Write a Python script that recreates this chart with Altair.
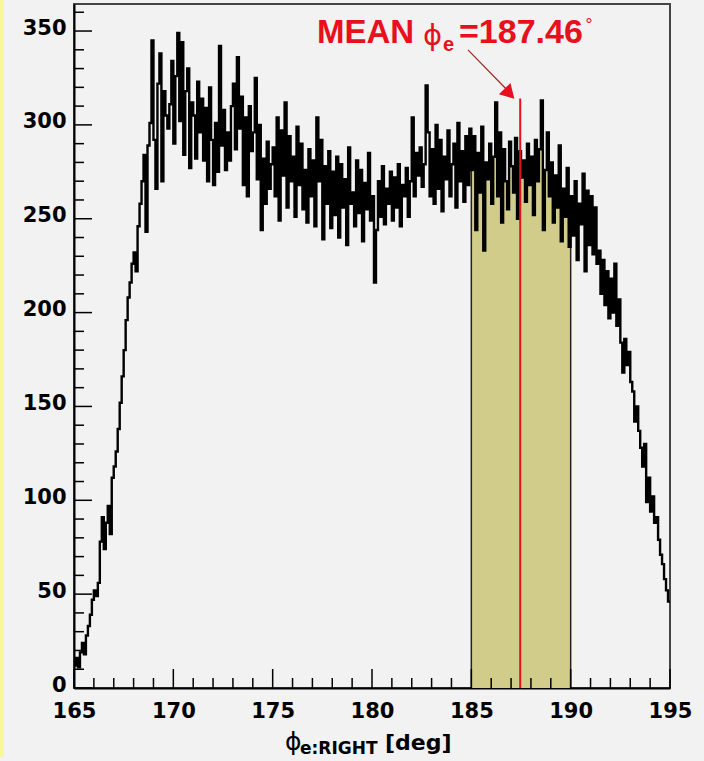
import altair as alt
import pandas as pd

# ---------------- data ----------------
BIN_START = 165.0
BIN_WIDTH = 0.1
counts = [
    12, 16, 11, 19, 24, 18, 28, 33, 39, 47,          # 165
    52, 49, 56, 78, 91, 74, 88, 97, 82, 112,         # 166
    118, 126, 138, 152, 166, 180, 196, 208, 216, 226,  # 167
    232, 222, 246, 258, 270, 284, 243, 289, 301, 345,  # 168
    292, 266, 322, 338, 270, 318, 305, 298, 311, 334,  # 169
    290, 326, 349, 302, 344, 284, 318, 330, 277, 312,  # 170
    305, 282, 323, 296, 314, 281, 309, 270, 320, 292,  # 171
    268, 301, 275, 342, 289, 308, 276, 296, 281, 310,  # 172
    322, 287, 336, 298, 315, 268, 304, 262, 310, 286,  # 173
    296, 325, 271, 300, 244, 282, 258, 291, 266, 279,  # 174
    288, 262, 304, 249, 297, 273, 312, 256, 294, 270,  # 175
    283, 251, 299, 268, 290, 255, 276, 248, 287, 262,  # 176
    281, 246, 304, 270, 292, 239, 278, 258, 286, 245,  # 177
    275, 252, 283, 240, 279, 256, 271, 236, 288, 258,  # 178
    264, 246, 281, 253, 276, 238, 269, 255, 285, 249,  # 179
    262, 216, 244, 270, 251, 278, 247, 266, 258, 275,  # 180
    249, 272, 256, 279, 246, 268, 262, 277, 251, 270,  # 181
    304, 262, 285, 273, 288, 267, 279, 321, 296, 262,  # 182
    287, 258, 300, 266, 292, 254, 283, 271, 297, 262,  # 183
    279, 290, 256, 301, 270, 286, 259, 294, 268, 298,  # 184
    276, 294, 244, 285, 264, 299, 233, 280, 271, 290,  # 185
    258, 283, 312, 262, 296, 248, 287, 270, 255, 291,  # 186
    278, 264, 293, 250, 286, 272, 281, 259, 290, 268,  # 187
    283, 252, 292, 270, 287, 313, 244, 276, 296, 262,  # 188
    280, 248, 273, 256, 289, 238, 266, 251, 277, 235,  # 189
    262, 241, 270, 228, 258, 247, 274, 222, 265, 236,  # 190
    262, 231, 256, 226, 233, 210, 228, 204, 222, 197,  # 191
    218, 200, 226, 193, 207, 184, 168, 186, 172, 179,  # 192
    163, 158, 142, 150, 137, 128, 118, 130, 99, 112,   # 193
    94, 102, 88, 91, 79, 71, 66, 58, 52, 46,           # 194
]

x_major = [165, 170, 175, 180, 185, 190, 195]
x_minor = [166, 167, 168, 169, 171, 172, 173, 174, 176, 177, 178, 179,
           181, 182, 183, 184, 186, 187, 188, 189, 191, 192, 193, 194]
y_major = [0, 50, 100, 150, 200, 250, 300, 350]
y_minor = [10, 20, 30, 40, 60, 70, 80, 90, 110, 120, 130, 140, 160, 170, 180,
           190, 210, 220, 230, 240, 260, 270, 280, 290, 310, 320, 330, 340, 360]

band_range = [185.0, 190.0]
mean_phi = 187.46
mean_line_top = 314
arrow_start = [184.83, 340]
arrow_end = [186.95, 317]
arrow_head = [186.84, 317.5]

X_DOMAIN = [165, 195]
Y_DOMAIN = [0, 364.4]

# ---------------- tables ----------------
edges = [round(BIN_START + BIN_WIDTH * i, 1) for i in range(len(counts) + 1)]
hist = pd.DataFrame({"x": edges, "n": counts + [counts[-1]]})
band_idx = [i for i, e in enumerate(edges[:-1]) if band_range[0] - 1e-9 <= e < band_range[1] - 1e-9]
band = pd.DataFrame({
    "x": [edges[i] for i in band_idx] + [band_range[1]],
    "n": [counts[i] for i in band_idx] + [counts[band_idx[-1]]],
})
band_edges = pd.DataFrame({
    "x": band_range,
    "zero": [0, 0],
    "n": [counts[band_idx[0]], counts[band_idx[-1]]],
})

xs = alt.Scale(domain=X_DOMAIN, nice=False, zero=False)
ys = alt.Scale(domain=Y_DOMAIN, nice=False, zero=False)

XAX = alt.Axis(values=x_major, ticks=False, grid=False, title=None,
               domainColor="black", domainWidth=2, labelPadding=12,
               labelFlush=False, labelFont="DejaVu Sans",
               labelFontWeight="bold", labelFontSize=21, labelColor="black")
YAX = alt.Axis(values=y_major, ticks=False, grid=False, title=None,
               domainColor="black", domainWidth=2, labelPadding=8,
               labelOffset=-3, labelFont="DejaVu Sans",
               labelFontWeight="bold", labelFontSize=21, labelColor="black")


def X(field):
    return alt.X(field, scale=xs, axis=XAX)


def Y(field):
    return alt.Y(field, scale=ys, axis=YAX)


W, H = 596, 684

fill_area = alt.Chart(band).mark_area(interpolate="step-after", color="#d2cc8a").encode(
    x=X("x:Q"), y=Y("n:Q"),
)
edge_rules = alt.Chart(band_edges).mark_rule(color="#222222", strokeWidth=1.5).encode(
    x=X("x:Q"), y=Y("zero:Q"), y2="n:Q",
)

hist_line = alt.Chart(hist).mark_line(
    interpolate="step-after", color="black", strokeWidth=2.4
).encode(x=X("x:Q"), y=Y("n:Q"))

mean_rule = alt.Chart(pd.DataFrame({"x": [mean_phi], "zero": [0], "top": [mean_line_top]})).mark_rule(
    color="#e8101c", strokeWidth=2
).encode(x=X("x:Q"), y=Y("zero:Q"), y2="top:Q")

arrow_line = alt.Chart(pd.DataFrame({
    "x": [arrow_start[0]], "y": [arrow_start[1]],
    "x2": [arrow_end[0]], "y2": [arrow_end[1]],
})).mark_rule(color="#a82020", strokeWidth=1.2).encode(
    x=X("x:Q"), y=Y("y:Q"), x2="x2:Q", y2="y2:Q"
)
arrow_tip = alt.Chart(pd.DataFrame({"x": [arrow_head[0]], "y": [arrow_head[1]]})).mark_point(
    shape="triangle", filled=True, color="#e8101c", size=260, angle=136, opacity=1
).encode(x=X("x:Q"), y=Y("y:Q"))


def yticks(vals, length):
    return alt.Chart(pd.DataFrame({"v": vals})).mark_rule(color="black", strokeWidth=1.5).encode(
        y=Y("v:Q"), x=alt.value(0), x2=alt.value(length))


def xticks(vals, length):
    return alt.Chart(pd.DataFrame({"v": vals})).mark_rule(color="black", strokeWidth=1.5).encode(
        x=X("v:Q"), y=alt.value(H), y2=alt.value(H - length))


def label(text, px, py, size, color="black", weight="bold", font="DejaVu Sans"):
    return alt.Chart(pd.DataFrame({"t": [text]})).mark_text(
        align="left", baseline="alphabetic", fontSize=size, fontWeight=weight,
        font=font, color=color
    ).encode(x=alt.value(px), y=alt.value(py), text="t:N")


OX, OY = 74, 4  # plot origin inside the page
RED = "#e8101c"
texts = [
    label("MEAN", 317 - OX, 43 - OY, 33, RED, font="Liberation Sans"),
    label("ϕ", 423 - OX, 45 - OY, 29, RED, weight="normal"),
    label("e", 443 - OX, 51 - OY, 20, RED, font="Liberation Sans"),
    label("=187.46", 459 - OX, 43 - OY, 34, RED, font="Liberation Sans"),
    label("°", 585 - OX, 30 - OY, 16, RED, weight="normal"),
    label("ϕ", 285 - OX, 750 - OY, 25, "black", weight="normal"),
    label("e:RIGHT", 300 - OX, 754 - OY, 17, "black"),
    label("[deg]", 385 - OX, 750 - OY, 22, "black"),
]

strip = alt.Chart(pd.DataFrame({"a": [1]})).mark_rect(color="#f7f79c").encode(
    x=alt.value(-OX), x2=alt.value(-OX + 4), y=alt.value(-OY), y2=alt.value(757 - OY))

chart = alt.layer(
    fill_area,
    strip,
    edge_rules,
    hist_line,
    mean_rule,
    arrow_line,
    arrow_tip,
    yticks(y_major, 18),
    yticks(y_minor, 10),
    xticks(x_major, 19),
    xticks(x_minor, 10),
    *texts,
).properties(
    width=W, height=H,
    autosize="none",
    padding={"left": OX, "top": OY, "right": 704 - OX - W, "bottom": 761 - OY - H},
    background="#f2f2f2",
).configure_view(stroke="#444444", strokeWidth=2)

chart.save("out.html", embed_options={"renderer": "svg", "actions": False})
